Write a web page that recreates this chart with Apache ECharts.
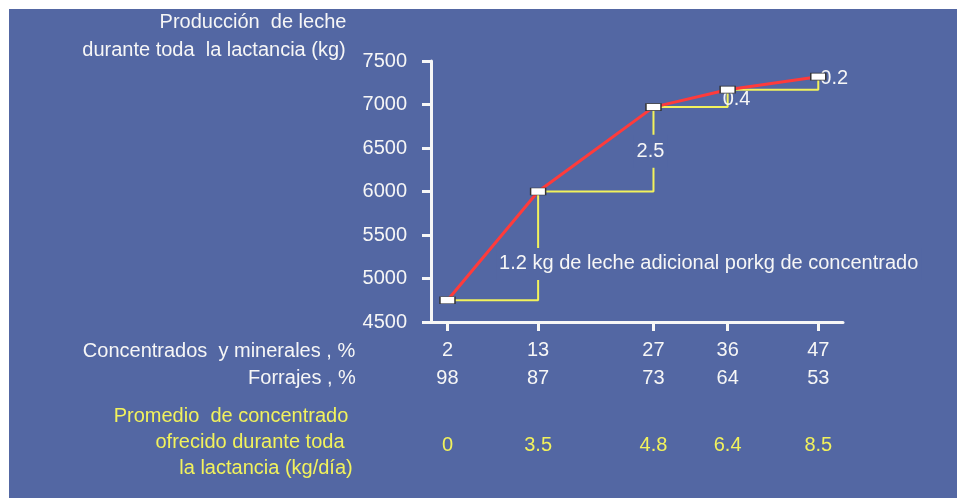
<!DOCTYPE html>
<html>
<head>
<meta charset="utf-8">
<script src="https://cdn.jsdelivr.net/npm/echarts@6/dist/echarts.min.js"></script>
<style>
html,body{margin:0;padding:0;background:#fff;}
#chart{width:957px;height:498px;}
</style>
</head>
<body>
<div id="chart"></div>
<script>
// ---- data ----
const concentratePct = [2, 13, 27, 36, 47];          // Concentrados y minerales, %
const foragePct = [98, 87, 73, 64, 53];              // Forrajes, %
const concentrateOffered = ['0', '3.5', '4.8', '6.4', '8.5']; // kg/día
const milkYield = [4750, 6000, 6970, 7170, 7320];    // kg per lactation
const marginalResponse = ['1.2 kg de leche adicional porkg de concentrado', '2.5', '0.4', '0.2'];
const yMin = 4500, yMax = 7500, yStep = 500;
const xMin = 0, xMax = 50;

const FONT = '"Liberation Sans", Arial, sans-serif';
const BLUE = '#5367a3';
const WHITE = '#f6f6f6';
const YELLOW = '#f2f25c';
const RED = '#ff3b3b';

const chart = echarts.init(document.getElementById('chart'), null, {renderer: 'canvas'});

// yellow step series
const stepSeries = [];
for (let i = 0; i < milkYield.length - 1; i++) {
  stepSeries.push({
    type: 'line',
    data: [
      [concentratePct[i], milkYield[i]],
      [concentratePct[i + 1], milkYield[i]],
      [concentratePct[i + 1], milkYield[i + 1]]
    ],
    symbol: 'none',
    lineStyle: {color: YELLOW, width: 2},
    z: 2,
    silent: true,
    animation: false
  });
}

// annotation label styles (pixel offsets only)
const annStyles = [
  {align: 'left', offset: [-42, 18], backgroundColor: BLUE, padding: [6, 3, 6, 3]},
  {align: 'center', offset: [-3, 2], backgroundColor: BLUE, padding: [1, 3, 12, 3]},
  {align: 'left', offset: [-5, 1]},
  {align: 'left', offset: [2, -5]}
];
const annData = marginalResponse.map((t, i) => ({
  value: [concentratePct[i + 1], (milkYield[i] + milkYield[i + 1]) / 2],
  label: Object.assign({
    show: true,
    position: 'inside',
    formatter: t,
    color: WHITE,
    opacity: 1,
    fontSize: 20,
    fontFamily: FONT,
    verticalAlign: 'middle'
  }, annStyles[i])
}));

const txt = (x, y, text, fill) => ({
  type: 'text', silent: true,
  style: {x: x, y: y, text: text, fill: fill, font: '20px ' + FONT, textAlign: 'center', textVerticalAlign: 'middle'}
});

const option = {
  backgroundColor: '#ffffff',
  animation: false,
  grid: {left: 431, top: 61, right: 114, bottom: 176, outerBoundsMode: 'none', containLabel: false},
  xAxis: {
    type: 'value',
    min: xMin, max: xMax,
    splitLine: {show: false},
    axisLine: {show: true, lineStyle: {color: WHITE, width: 3}},
    axisTick: {show: true, customValues: concentratePct, length: 9, lineStyle: {color: WHITE, width: 3}},
    axisLabel: {
      customValues: concentratePct,
      margin: 14,
      fontFamily: FONT,
      formatter: function (v) {
        const i = concentratePct.indexOf(v);
        if (i < 0) return '';
        return '{a|' + v + '}\n{a|' + foragePct[i] + '}\n{c|' + concentrateOffered[i] + '}';
      },
      rich: {
        a: {color: WHITE, fontSize: 20, fontFamily: FONT, lineHeight: 28, align: 'center'},
        c: {color: YELLOW, fontSize: 20, fontFamily: FONT, lineHeight: 106, align: 'center'}
      }
    }
  },
  yAxis: {
    type: 'value',
    min: yMin, max: yMax, interval: yStep,
    splitLine: {show: false},
    axisLine: {show: true, lineStyle: {color: WHITE, width: 3}},
    axisTick: {show: true, length: 9, lineStyle: {color: WHITE, width: 3}},
    axisLabel: {color: WHITE, fontSize: 20, fontFamily: FONT, margin: 24, formatter: v => String(v)}
  },
  graphic: [
    {type: 'rect', z: -10, silent: true, shape: {x: 9, y: 9, width: 948, height: 489}, style: {fill: BLUE}},
    txt(253, 22, 'Producción  de leche', WHITE),
    txt(214, 50, 'durante toda  la lactancia (kg)', WHITE),
    txt(219, 351, 'Concentrados  y minerales , %', WHITE),
    txt(302, 378, 'Forrajes , %', WHITE),
    txt(231, 416, 'Promedio  de concentrado', YELLOW),
    txt(250, 442, 'ofrecido durante toda', YELLOW),
    txt(266, 468, 'la lactancia (kg/día)', YELLOW)
  ],
  series: stepSeries.concat([
    {
      type: 'line',
      data: concentratePct.map((x, i) => [x, milkYield[i]]),
      symbol: 'rect',
      symbolSize: [15, 7],
      itemStyle: {color: '#ffffff', borderColor: '#333333', borderWidth: 1},
      lineStyle: {color: RED, width: 3},
      z: 4,
      silent: true
    },
    {
      type: 'scatter',
      data: annData,
      symbolSize: 0,
      itemStyle: {opacity: 1},
      z: 3,
      silent: true
    }
  ])
};
chart.setOption(option);
</script>
</body>
</html>
